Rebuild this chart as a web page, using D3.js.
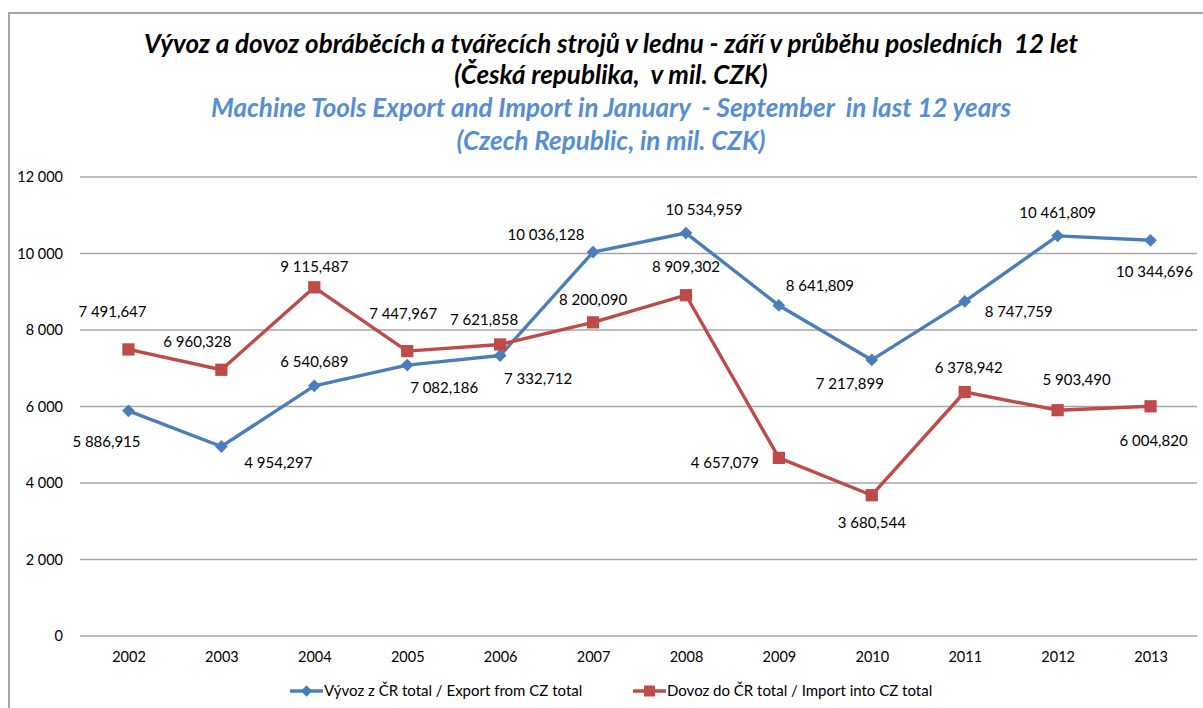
<!DOCTYPE html>
<html>
<head>
<meta charset="utf-8">
<script src="https://cdn.jsdelivr.net/npm/d3@7"></script>
<style>
  body { margin: 0; background: #fff; }
  text { font-family: Lato, "Open Sans", sans-serif; white-space: pre; }
</style>
</head>
<body>
<div id="chart"></div>
<script>
// chart data
var years = ["2002", "2003", "2004", "2005", "2006", "2007", "2008", "2009", "2010", "2011", "2012", "2013"];
var exportValues = [5886.915, 4954.297, 6540.689, 7082.186, 7332.712, 10036.128, 10534.959, 8641.809, 7217.899, 8747.759, 10461.809, 10344.696];
var importValues = [7491.647, 6960.328, 9115.487, 7447.967, 7621.858, 8200.090, 8909.302, 4657.079, 3680.544, 6378.942, 5903.490, 6004.820];
var yTicks = [0, 2000, 4000, 6000, 8000, 10000, 12000];

var titleLines = [
    "Vývoz a dovoz obráběcích a tvářecích strojů v lednu - září v průběhu posledních  12 let",
    "(Česká republika,  v mil. CZK)",
    "Machine Tools Export and Import in January  - September  in last 12 years",
    "(Czech Republic, in mil. CZK)"
];
var seriesNames = ["Vývoz z ČR total / Export from CZ total", "Dovoz do ČR total / Import into CZ total"];

// label placement (pixel offsets from the marker, like the hand-moved excel labels)
var exportLabelPos = [[-22, 31], [57, 16], [0, -24], [37, 23], [38, 23], [-47, -17], [18, -23], [41, -20], [-22, 24], [54, 10], [0, -23], [4, 31]];
var importLabelPos = [[-16, -38], [-24, -28], [0, -21], [-4, -37], [-16, -25], [0, -23], [0, -28], [-54, 5], [0, 28], [4, -24], [19, -30], [3, 34]];

var W = 1203, H = 708;
var margin = {left: 82, right: 6, top: 177, bottom: 72};

var locale = d3.formatLocale({decimal: ",", thousands: "\u00a0", grouping: [3]});
var fmtVal = locale.format(",.3f");
var fmtTick = locale.format(",d");

var svg = d3.select("#chart").append("svg")
    .attr("width", W)
    .attr("height", H);

// outer frame (only top/left visible in the crop)
svg.append("rect")
    .attr("x", 9).attr("y", 13)
    .attr("width", W + 20).attr("height", H + 20)
    .attr("fill", "none")
    .attr("stroke", "#a6a6a6")
    .attr("stroke-width", 2);

var titleColors = ["#000", "#000", "#558ed5", "#558ed5"];
var titleY = [44, 75, 108, 141];
svg.append("g").selectAll("text")
    .data(titleLines)
    .enter().append("text")
    .attr("x", 611)
    .attr("y", function (d, i) { return titleY[i]; })
    .attr("dy", "0.35em")
    .attr("text-anchor", "middle")
    .attr("font-size", 26)
    .attr("font-weight", "bold")
    .attr("font-style", "italic")
    .attr("fill", function (d, i) { return titleColors[i]; })
    .text(function (d) { return d; });

var x = d3.scalePoint()
    .domain(years)
    .range([margin.left, W - margin.right])
    .padding(0.5);

var y = d3.scaleLinear()
    .domain([0, 12000])
    .range([H - margin.bottom, margin.top]);

// gridlines
svg.append("g").attr("class", "grid")
    .selectAll("line")
    .data(yTicks)
    .enter().append("line")
    .attr("x1", margin.left - 2)
    .attr("x2", W - margin.right)
    .attr("y1", function (d) { return y(d); })
    .attr("y2", function (d) { return y(d); })
    .attr("stroke", "#a6a6a6")
    .attr("stroke-width", 1.4);

// y axis labels
var yAxis = d3.axisLeft(y).tickValues(yTicks).tickFormat(fmtTick).tickSize(0).tickPadding(19);
var yg = svg.append("g")
    .attr("transform", "translate(" + margin.left + ",0)")
    .call(yAxis);
yg.select(".domain").remove();
yg.selectAll("text")
    .attr("font-family", "Lato, sans-serif")
    .attr("font-size", 14.5)
    .attr("fill", "#000");

// x axis labels
var xAxis = d3.axisBottom(x).tickSize(0).tickPadding(16);
var xg = svg.append("g")
    .attr("transform", "translate(0," + y(0) + ")")
    .call(xAxis);
xg.select(".domain").remove();
xg.selectAll("text")
    .attr("font-family", "Lato, sans-serif")
    .attr("font-size", 14.5)
    .attr("fill", "#000");

var series = [
    {name: seriesNames[0], values: exportValues, color: "#4a7ebb", marker: d3.symbolSquare, size: 82, rotate: 45, labels: exportLabelPos},
    {name: seriesNames[1], values: importValues, color: "#be4b48", marker: d3.symbolSquare, size: 150, rotate: 0, labels: importLabelPos}
];

var line = d3.line()
    .x(function (d, i) { return x(years[i]); })
    .y(function (d) { return y(d); });

series.forEach(function (s) {
    var g = svg.append("g");
    g.append("path")
        .attr("d", line(s.values))
        .attr("fill", "none")
        .attr("stroke", s.color)
        .attr("stroke-width", 3.4)
        .attr("stroke-linejoin", "round");

    g.selectAll("path.marker")
        .data(s.values)
        .enter().append("path")
        .attr("class", "marker")
        .attr("d", d3.symbol().type(s.marker).size(s.size))
        .attr("transform", function (d, i) {
            return "translate(" + x(years[i]) + "," + y(d) + ") rotate(" + s.rotate + ")";
        })
        .attr("fill", s.color);
});

// data labels
series.forEach(function (s) {
    svg.append("g").selectAll("text")
        .data(s.values)
        .enter().append("text")
        .attr("x", function (d, i) { return x(years[i]) + s.labels[i][0]; })
        .attr("y", function (d, i) { return y(d) + s.labels[i][1]; })
        .attr("dy", "0.35em")
        .attr("text-anchor", "middle")
        .attr("font-size", 15)
        .attr("fill", "#000")
        .text(function (d) { return fmtVal(d); });
});

// legend
var legendX = [290, 633];
var legend = svg.append("g");
series.forEach(function (s, i) {
    var lg = legend.append("g").attr("transform", "translate(" + legendX[i] + ",691)");
    lg.append("line")
        .attr("x1", 0).attr("x2", 33)
        .attr("stroke", s.color)
        .attr("stroke-width", 3.4);
    lg.append("path")
        .attr("d", d3.symbol().type(s.marker).size(s.size * 0.8))
        .attr("transform", "translate(16.5,0) rotate(" + s.rotate + ")")
        .attr("fill", s.color);
    lg.append("text")
        .attr("x", 34)
        .attr("dy", "0.35em")
        .attr("font-size", 15)
        .attr("fill", "#000")
        .text(s.name);
});
</script>
</body>
</html>
